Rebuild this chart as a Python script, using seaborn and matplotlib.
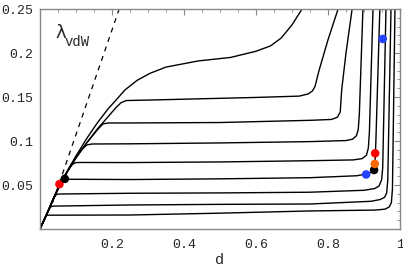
import numpy as np
import pandas as pd
import seaborn as sns
import matplotlib
matplotlib.use("Agg")
import matplotlib.pyplot as plt
from matplotlib.ticker import MultipleLocator

# curves lambda(d) (lowest plateau first, top curve last)
d1 = [0, 0.018, 0.03, 0.25, 0.5, 0.75, 0.93, 0.958, 0.97, 0.976, 0.979, 0.986]
l1 = [0, 0.0158, 0.0157, 0.0159, 0.018, 0.0205, 0.0215, 0.0225, 0.025, 0.03, 0.045, 0.25]
d2 = [0, 0.02, 0.029, 0.036, 0.25, 0.5, 0.75, 0.92, 0.945, 0.957, 0.963, 0.966, 0.975]
l2 = [0, 0.018, 0.025, 0.026, 0.0273, 0.028, 0.0284, 0.0315, 0.0335, 0.036, 0.041, 0.055, 0.25]
d3 = [0, 0.02, 0.038, 0.046, 0.06, 0.25, 0.5, 0.75, 0.9, 0.93, 0.942, 0.949, 0.952, 0.961]
l3 = [0, 0.018, 0.035, 0.0395, 0.0398, 0.0406, 0.041, 0.0418, 0.044, 0.046, 0.049, 0.056, 0.07, 0.25]
d4 = [0, 0.02, 0.04, 0.054, 0.064, 0.075, 0.1, 0.25, 0.5, 0.75, 0.88, 0.906, 0.92, 0.928, 0.931, 0.933, 0.944]
l4 = [0, 0.018, 0.037, 0.049, 0.055, 0.0565, 0.0565, 0.0562, 0.057, 0.0583, 0.0605, 0.0625, 0.0645, 0.068, 0.078, 0.1, 0.25]
d5 = [0, 0.02, 0.04, 0.06, 0.08, 0.09, 0.1, 0.12, 0.25, 0.5, 0.75, 0.87, 0.895, 0.907, 0.912, 0.915, 0.925]
l5 = [0, 0.018, 0.037, 0.054, 0.068, 0.0735, 0.0755, 0.0756, 0.0755, 0.0762, 0.0776, 0.0785, 0.08, 0.084, 0.092, 0.11, 0.25]
d6 = [0, 0.02, 0.04, 0.06, 0.08, 0.1, 0.115, 0.13, 0.145, 0.25, 0.5, 0.75, 0.85, 0.868, 0.879, 0.884, 0.887, 0.897]
l6 = [0, 0.018, 0.037, 0.054, 0.068, 0.081, 0.09, 0.0955, 0.0966, 0.0968, 0.0978, 0.0993, 0.1005, 0.102, 0.106, 0.113, 0.13, 0.25]
d7 = [0, 0.02, 0.04, 0.06, 0.08, 0.1, 0.13, 0.16, 0.175, 0.19, 0.25, 0.5, 0.75, 0.81, 0.826, 0.834, 0.838, 0.85, 0.867]
l7 = [0, 0.018, 0.037, 0.054, 0.068, 0.081, 0.098, 0.113, 0.1195, 0.1205, 0.1205, 0.121, 0.1235, 0.1245, 0.127, 0.133, 0.158, 0.2, 0.25]
d8 = [0, 0.02, 0.04, 0.06, 0.08, 0.1, 0.13, 0.16, 0.19, 0.21, 0.225, 0.24, 0.3, 0.45, 0.6, 0.72, 0.745, 0.757, 0.764, 0.775, 0.8, 0.828]
l8 = [0, 0.018, 0.037, 0.054, 0.068, 0.081, 0.098, 0.114, 0.128, 0.1375, 0.1435, 0.146, 0.1465, 0.148, 0.1495, 0.151, 0.1535, 0.157, 0.162, 0.18, 0.215, 0.25]
d9 = [0, 0.02, 0.04, 0.06, 0.08, 0.1, 0.13, 0.16, 0.19, 0.208, 0.236, 0.27, 0.306, 0.35, 0.44, 0.53, 0.6, 0.64, 0.67, 0.7, 0.728]
l9 = [0, 0.018, 0.037, 0.054, 0.069, 0.083, 0.103, 0.121, 0.137, 0.145, 0.158, 0.169, 0.177, 0.184, 0.191, 0.195, 0.202, 0.208, 0.217, 0.232, 0.25]

# van der Waals line
d_vdw = [0.035, 0.22]
l_vdw = [0.03, 0.25]

# marked points
pt_d = [0.054, 0.069, 0.906, 0.928, 0.93, 0.931, 0.952]
pt_l = [0.051, 0.057, 0.062, 0.067, 0.074, 0.086, 0.216]
pt_c = ["#ff0000", "#000000", "#2341ff", "#000000", "#ff6a00", "#ff0000", "#2341ff"]

xticks = [0.2, 0.4, 0.6, 0.8, 1]
xticklabels = ["0.2", "0.4", "0.6", "0.8", "1"]
yticks = [0.05, 0.1, 0.15, 0.2, 0.25]
yticklabels = ["0.05", "0.1", "0.15", "0.2", "0.25"]

curves = [(d1, l1), (d2, l2), (d3, l3), (d4, l4), (d5, l5), (d6, l6), (d7, l7), (d8, l8), (d9, l9)]
df = pd.concat([pd.DataFrame({"d": d, "lam": l, "curve": i}) for i, (d, l) in enumerate(curves)])

sns.set_style("white")
plt.rcParams["font.family"] = ["Liberation Mono", "DejaVu Sans"]

fig = plt.figure(figsize=(4.03, 2.73), dpi=100)
ax = fig.add_axes([40 / 403, 44 / 273, 360 / 403, 220 / 273])

sns.lineplot(data=df, x="d", y="lam", units="curve", estimator=None, sort=False,
             color="black", lw=1.0, ax=ax, legend=False)
ax.plot(d_vdw, l_vdw, color="black", lw=0.9, dashes=(4, 4))
sns.scatterplot(x=pt_d, y=pt_l, hue=pt_c, palette={c: c for c in set(pt_c)},
                s=38, edgecolor="none", legend=False, ax=ax, zorder=5)

ax.text(0.042, 0.2175, "λ", fontsize=13, family="DejaVu Sans")
ax.text(0.069, 0.2085, "vdW", fontsize=10)

ax.set_xlim(0, 1)
ax.set_ylim(0, 0.25)
ax.set_xticks(xticks)
ax.set_xticklabels(xticklabels)
ax.set_yticks(yticks)
ax.set_yticklabels(yticklabels)
ax.xaxis.set_minor_locator(MultipleLocator(0.05))
ax.yaxis.set_minor_locator(MultipleLocator(0.01))
ax.tick_params(which="both", direction="in", top=True, right=True, color="#888888",
               labelsize=9.5)
ax.tick_params(axis="y", pad=5)
ax.tick_params(axis="x", pad=7)
ax.tick_params(which="major", length=4, width=0.8)
ax.tick_params(which="minor", length=2, width=0.6)
for s in ax.spines.values():
    s.set_color("#888888")
    s.set_linewidth(1.0)
ax.set_xlabel("d", fontsize=11, labelpad=2)
ax.set_ylabel("")

fig.savefig("out.png", dpi=100)
